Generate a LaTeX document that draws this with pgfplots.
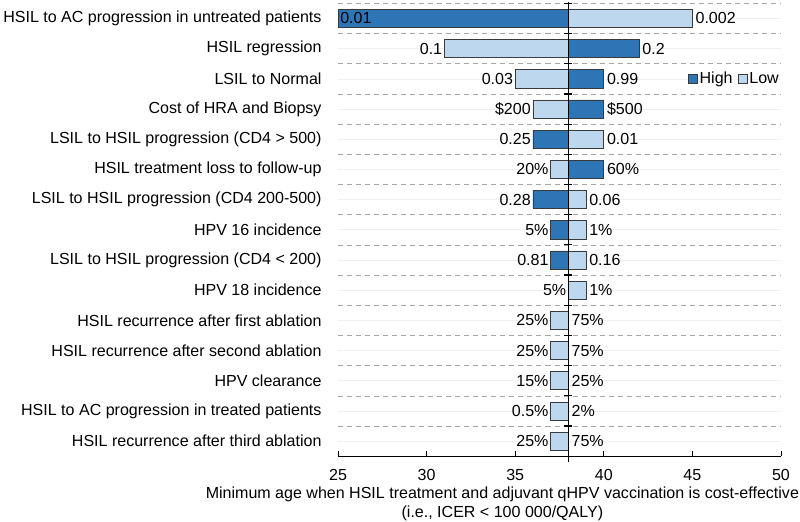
\documentclass[border=0pt]{standalone}
\usepackage{pgfplots}
\usepackage{pgfplotstable}
\pgfplotsset{compat=1.18}
\usepackage{fontspec}
\setmainfont{Liberation Sans}
\definecolor{hiblue}{HTML}{2E75B6}
\definecolor{loblue}{HTML}{BDD7EE}
\definecolor{edge}{HTML}{3A3A3A}
\pgfplotsset{
  hileg/.style={legend image code/.code={\draw[fill=hiblue, draw=edge, line width=0.7pt] (0pt,-4.5pt) rectangle (9pt,4.5pt);}},
  loleg/.style={legend image code/.code={\draw[fill=loblue, draw=edge, line width=0.7pt] (0pt,-4.5pt) rectangle (9pt,4.5pt);}},
}

% y: row position (15 = top); high/low: minimum age at high/low parameter value
\pgfplotstableread{
y high low
15 25 45
14 42 31
13 40 35
12 40 36
11 36 40
10 40 37
9 36 39
8 37 39
7 37 39
6 38 39
5 38 37
4 38 37
3 38 37
2 38 37
1 38 37
}\bars

% labels on the left of the bars
\pgfplotstableread{
y x t
14 31 0.1
13 35 0.03
12 36 \$200
11 36 0.25
10 37 20\%
9 36 0.28
8 37 5\%
7 37 0.81
6 38 5\%
5 37 25\%
4 37 25\%
3 37 15\%
2 37 0.5\%
1 37 25\%
}\leftlab

% labels on the right of the bars
\pgfplotstableread{
y x t
15 45 0.002
14 42 0.2
13 40 0.99
12 40 \$500
11 40 0.01
10 40 60\%
9 39 0.06
8 39 1\%
7 39 0.16
6 39 1\%
5 38 75\%
4 38 75\%
3 38 25\%
2 38 2\%
1 38 75\%
}\rightlab

\pgfplotstableread{
y x t
15 25 0.01
}\insidelab

\begin{document}
\begin{tikzpicture}[font=\fontsize{16}{18.5}\selectfont]
\begin{axis}[
  scale only axis,
  width=442pt, height=452pt,
  xmin=-13, xmax=12,
  ymin=0.5, ymax=15.5,
  clip=false,
  axis x line*=bottom,
  axis y line*=left,
  y axis line style={draw=none},
  x axis line style={line width=0.9pt},
  xtick={-13,-8,-3,2,7,12},
  xticklabels={25,30,35,40,45,50},
  xtick style={line width=0.9pt, black},
  major tick length=5pt,
  tick align=inside,
  every x tick label/.append style={yshift=-12pt, inner sep=1pt},
  ytick={1,...,15},
  yticklabels={
    HSIL recurrence after third ablation,
    HSIL to AC progression in treated patients,
    HPV clearance,
    HSIL recurrence after second ablation,
    HSIL recurrence after first ablation,
    HPV 18 incidence,
    LSIL to HSIL progression (CD4 < 200),
    HPV 16 incidence,
    LSIL to HSIL progression (CD4 200-500),
    HSIL treatment loss to follow-up,
    LSIL to HSIL progression (CD4 > 500),
    Cost of HRA and Biopsy,
    LSIL to Normal,
    HSIL regression,
    HSIL to AC progression in untreated patients},
  ytick style={draw=none},
  every y tick label/.append style={xshift=-13pt},
  ymajorgrids,
  major grid style={gray!12, line width=0.6pt},
  extra y ticks={1.5,2.5,...,15.5},
  extra y tick labels={},
  extra y tick style={grid=major, major grid style={gray!70, dash pattern=on 5pt off 4pt, line width=0.6pt}, tick style={draw=none}},
  /pgf/number format/assume math mode=true,
  xlabel={Minimum age when HSIL treatment and adjuvant qHPV vaccination is cost-effective\\(i.e., ICER < 100 000/QALY)},
  xlabel style={at={(axis description cs:0.371,0)}, anchor=north, align=center, yshift=-29pt, inner sep=1pt, font=\fontsize{16}{19}\selectfont},
  legend style={at={(axis cs:12,13)}, anchor=east, draw=none, fill=none,
    legend columns=-1, font=\fontsize{16}{18.5}\selectfont,
    /tikz/every even column/.append style={column sep=3pt},
    inner sep=0pt},
  legend cell align=left,
]
\addplot[xbar, bar width=0.6, bar shift=0pt, fill=hiblue, draw=edge, line width=0.7pt, hileg]
  table[x expr=\thisrow{high}-38, y=y]{\bars};
\addlegendentry{High}
\addplot[xbar, bar width=0.6, bar shift=0pt, fill=loblue, draw=edge, line width=0.7pt, loleg]
  table[x expr=\thisrow{low}-38, y=y]{\bars};
\addlegendentry{Low}

\addplot[forget plot, draw=none, mark=none, nodes near coords, point meta=explicit symbolic,
  nodes near coords style={anchor=east, inner sep=2pt, text=black}]
  table[x expr=\thisrow{x}-38, y=y, meta=t]{\leftlab};
\addplot[forget plot, draw=none, mark=none, nodes near coords, point meta=explicit symbolic,
  nodes near coords style={anchor=west, inner sep=3pt, text=black}]
  table[x expr=\thisrow{x}-38, y=y, meta=t]{\rightlab};
\addplot[forget plot, draw=none, mark=none, nodes near coords, point meta=explicit symbolic,
  nodes near coords style={anchor=west, inner sep=2pt, text=black}]
  table[x expr=\thisrow{x}-38, y=y, meta=t]{\insidelab};

\draw[black, line width=1.6pt] (axis cs:0,0.3) -- (axis cs:0,15.55);
\pgfplotsinvokeforeach{0,...,15}{
  \draw[black, line width=1.2pt] ([xshift=-4pt]axis cs:0,#1.5) -- ([xshift=4pt]axis cs:0,#1.5);
}
\end{axis}
\end{tikzpicture}
\end{document}
